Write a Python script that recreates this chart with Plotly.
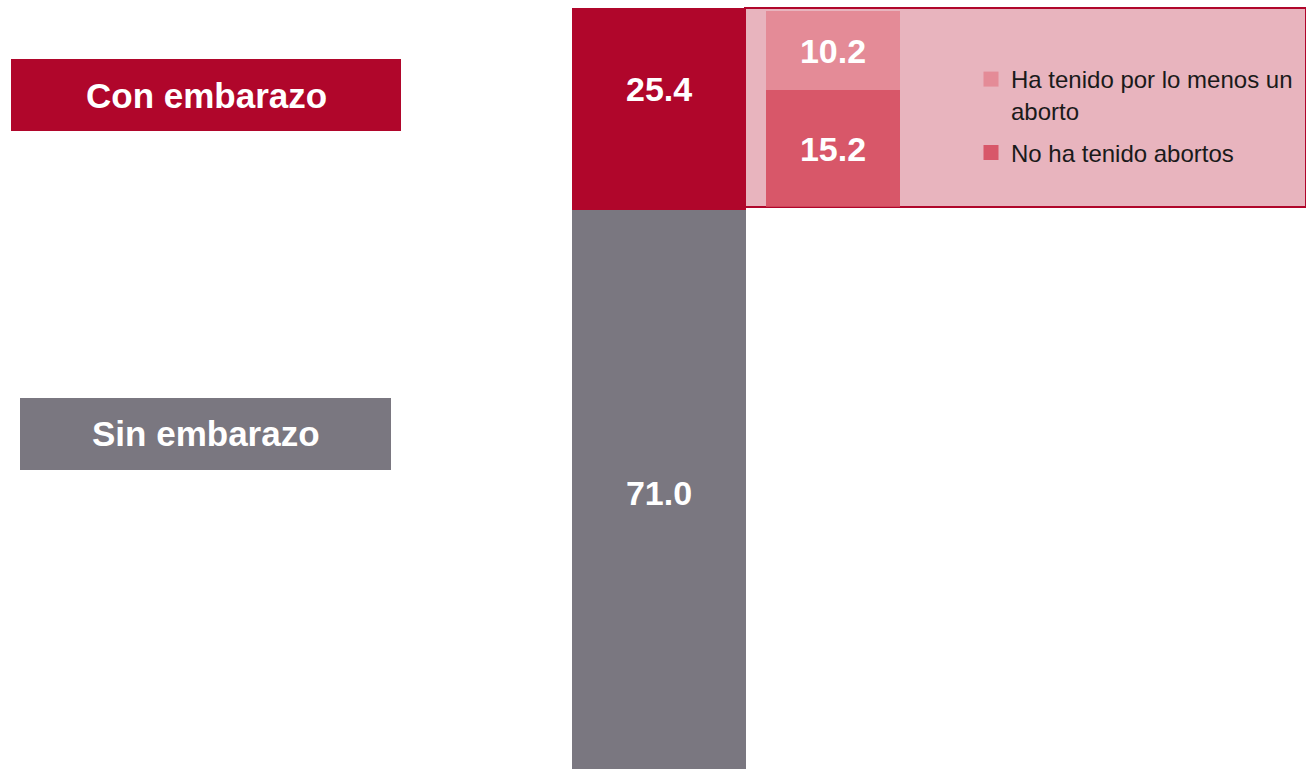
import plotly.graph_objects as go

W, H = 1306, 769

# Share of women by pregnancy status (%)
status_labels = ["Sin embarazo", "Con embarazo"]
status_values = [71.0, 25.4]
status_colors = ["#7A7780", "#B0062B"]

# Breakdown of "Con embarazo" by abortion history (%)
abortion_labels = ["No ha tenido abortos", "Ha tenido por lo menos un<br>aborto"]
abortion_values = [15.2, 10.2]
abortion_colors = ["#D85769", "#E48B97"]
legend_ranks = [2, 1]

FONT = "Liberation Sans, Arial, sans-serif"
VALUE_FONT = dict(family=FONT, size=34, color="white", weight="bold")


def px_x(p):
    return p / W


def px_y(p):
    return 1 - p / H


fig = go.Figure()

# Main stacked column: grey at the bottom, red on top
fig.add_trace(go.Bar(
    x=[0], y=[status_values[0]], name=status_labels[0],
    marker=dict(color=status_colors[0], line=dict(width=0)),
    width=1, text=[f"{status_values[0]:.1f}"], textposition="inside",
    insidetextanchor="middle", constraintext="none", textfont=VALUE_FONT,
    showlegend=False, xaxis="x", yaxis="y",
))
fig.add_trace(go.Bar(
    x=[0], y=[status_values[1]], name=status_labels[1],
    marker=dict(color=status_colors[1], line=dict(width=0)),
    width=1, showlegend=False, xaxis="x", yaxis="y",
))

# Breakdown column inside the pink panel
for i, (lab, val, col, rank) in enumerate(
        zip(abortion_labels, abortion_values, abortion_colors, legend_ranks)):
    fig.add_trace(go.Bar(
        x=[0], y=[val], name=lab, legendgroup=f"g{i}", showlegend=False,
        marker=dict(color=col, line=dict(width=0)),
        width=1, text=[f"{val:.1f}"], textposition="inside",
        insidetextanchor="middle", constraintext="none", textfont=VALUE_FONT,
        xaxis="x2", yaxis="y2",
    ))
    # Legend entry with a larger square swatch
    fig.add_trace(go.Scatter(
        x=[None], y=[None], name=lab, legendgroup=f"g{i}", legendrank=rank,
        mode="markers", marker=dict(symbol="square", size=15, color=col),
        xaxis="x2", yaxis="y2", hoverinfo="skip",
    ))

# Value label of the red segment, set in its upper part
fig.add_annotation(
    x=0, y=status_values[0] + status_values[1] * 0.6, xref="x", yref="y",
    text=f"{status_values[1]:.1f}", showarrow=False, font=VALUE_FONT,
)

shapes = [
    # Pink panel holding the breakdown
    dict(type="rect", xref="paper", yref="paper", layer="below",
         x0=px_x(745), x1=px_x(1306), y0=px_y(207), y1=px_y(8),
         fillcolor="#E8B4BE", line=dict(color="#B0062B", width=2)),
    # Category label boxes
    dict(type="rect", xref="paper", yref="paper", layer="below",
         x0=px_x(11), x1=px_x(401), y0=px_y(131), y1=px_y(59),
         fillcolor=status_colors[1], line=dict(width=0)),
    dict(type="rect", xref="paper", yref="paper", layer="below",
         x0=px_x(20), x1=px_x(391), y0=px_y(470), y1=px_y(398),
         fillcolor=status_colors[0], line=dict(width=0)),
]

LABEL_FONT = dict(family=FONT, size=35, color="white", weight="bold")
fig.add_annotation(x=px_x(206), y=px_y(95), xref="paper", yref="paper",
                   xanchor="center", yanchor="middle",
                   text=status_labels[1], showarrow=False, font=LABEL_FONT)
fig.add_annotation(x=px_x(205.5), y=px_y(434), xref="paper", yref="paper",
                   xanchor="center", yanchor="middle",
                   text=status_labels[0], showarrow=False, font=LABEL_FONT)

fig.update_layout(
    width=W, height=H,
    margin=dict(l=0, r=0, t=0, b=0),
    paper_bgcolor="white", plot_bgcolor="rgba(0,0,0,0)",
    barmode="stack", bargap=0,
    shapes=shapes,
    xaxis=dict(domain=[px_x(572), px_x(746)], range=[-0.5, 0.5], visible=False,
               fixedrange=True),
    yaxis=dict(domain=[0, px_y(8)], range=[0.7, 96.4], visible=False,
               fixedrange=True),
    xaxis2=dict(domain=[px_x(766), px_x(900)], range=[-0.5, 0.5], visible=False,
                anchor="y2", fixedrange=True),
    yaxis2=dict(domain=[px_y(206.7), px_y(11)], range=[0, 25.4], visible=False,
                anchor="x2", fixedrange=True),
    legend=dict(x=px_x(971), y=px_y(57), xanchor="left", yanchor="top",
                traceorder="grouped", tracegroupgap=8, valign="top",
                itemsizing="trace", bgcolor="rgba(0,0,0,0)",
                font=dict(family=FONT, size=24, color="#1A1A1A"),
                itemclick=False, itemdoubleclick=False),
    showlegend=True,
)

fig.write_html("out.html")
